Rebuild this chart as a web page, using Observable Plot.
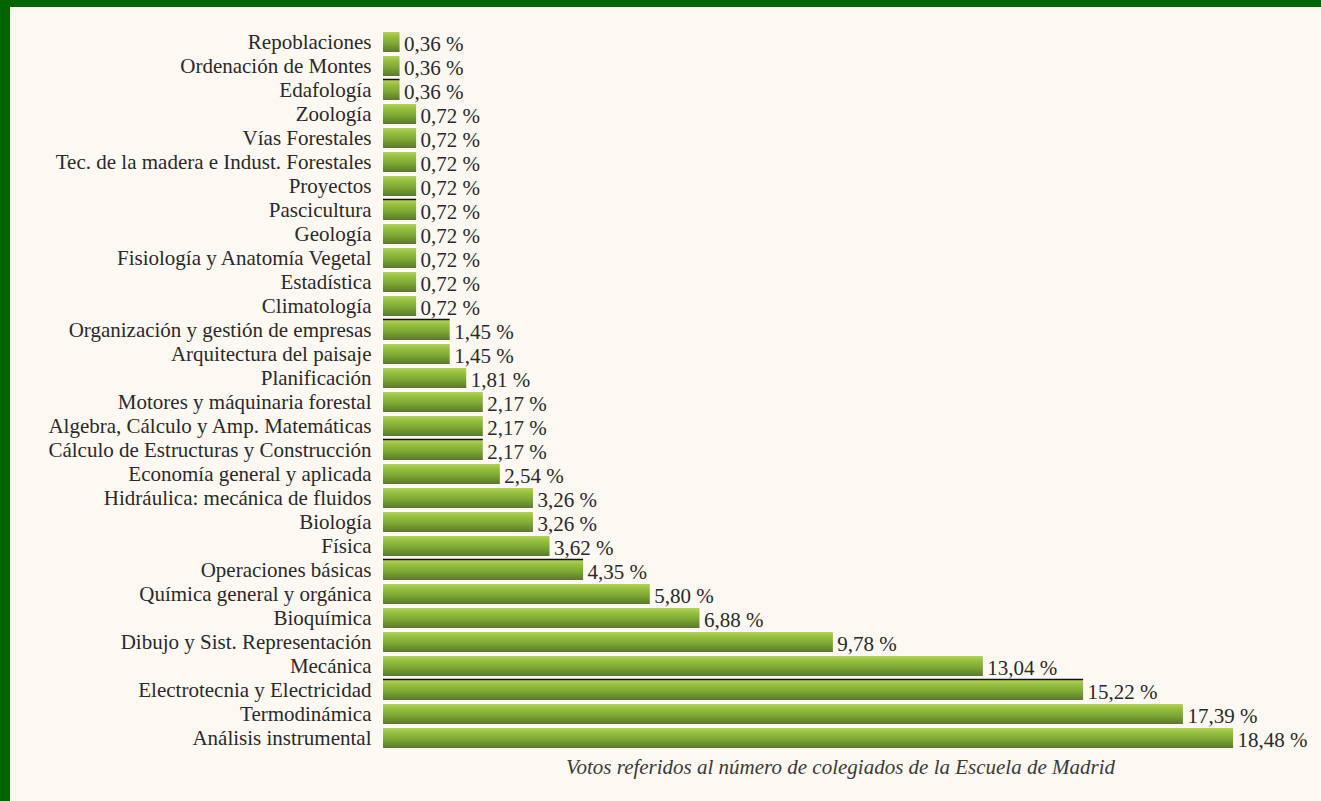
<!DOCTYPE html>
<html>
<head>
<meta charset="utf-8">
<script src="https://cdn.jsdelivr.net/npm/d3@7"></script>
<script src="https://cdn.jsdelivr.net/npm/@observablehq/plot@0.6"></script>
<style>
  html, body { margin: 0; padding: 0; background: #fdf8f1; }
  #frame { width: 1311px; height: 794px; border-top: 7px solid #006400; border-left: 10px solid #006400; background: #fdf8f1; overflow: hidden; }
</style>
</head>
<body>
<div id="frame"></div>
<script>
const categories = [
  "Repoblaciones", "Ordenación de Montes", "Edafología", "Zoología", "Vías Forestales",
  "Tec. de la madera e Indust. Forestales", "Proyectos", "Pascicultura", "Geología",
  "Fisiología y Anatomía Vegetal", "Estadística", "Climatología",
  "Organización y gestión de empresas", "Arquitectura del paisaje", "Planificación",
  "Motores y máquinaria forestal", "Algebra, Cálculo y Amp. Matemáticas",
  "Cálculo de Estructuras y Construcción", "Economía general y aplicada",
  "Hidráulica: mecánica de fluidos", "Biología", "Física", "Operaciones básicas",
  "Química general y orgánica", "Bioquímica", "Dibujo y Sist. Representación",
  "Mecánica", "Electrotecnia y Electricidad", "Termodinámica", "Análisis instrumental"
];
const values = [
  0.36, 0.36, 0.36, 0.72, 0.72, 0.72, 0.72, 0.72, 0.72, 0.72, 0.72, 0.72,
  1.45, 1.45, 1.81, 2.17, 2.17, 2.17, 2.54, 3.26, 3.26, 3.62, 4.35,
  5.80, 6.88, 9.78, 13.04, 15.22, 17.39, 18.48
];
const linedRows = [
  "Edafología", "Pascicultura", "Organización y gestión de empresas",
  "Cálculo de Estructuras y Construcción", "Operaciones básicas", "Electrotecnia y Electricidad"
];
const caption = "Votos referidos al número de colegiados de la Escuela de Madrid";

const data = categories.map((c, i) => ({cat: c, value: values[i]}));
const lined = data.filter(d => linedRows.includes(d.cat));
const fmt = v => v.toFixed(2).replace(".", ",") + " %";

const defs = () => {
  const d = d3.create("svg:defs");
  const g = d.append("linearGradient").attr("id", "barGrad")
    .attr("x1", 0).attr("y1", 0).attr("x2", 0).attr("y2", 1);
  g.append("stop").attr("offset", "0%").attr("stop-color", "#b6d25a");
  g.append("stop").attr("offset", "25%").attr("stop-color", "#95bf3c");
  g.append("stop").attr("offset", "60%").attr("stop-color", "#7ba534");
  g.append("stop").attr("offset", "100%").attr("stop-color", "#587a2b");
  return d.node();
};

const chart = Plot.plot({
  width: 1311,
  height: 794,
  marginLeft: 373,
  marginRight: 24,
  marginTop: 18,
  marginBottom: 46,
  x: {domain: [0, 19.87], axis: null},
  y: {domain: categories, padding: 0.17, axis: null},
  style: {fontFamily: "'Liberation Serif', 'DejaVu Serif', serif", background: "transparent", color: "#2a2a2a"},
  marks: [
    defs,
    Plot.barX(data, {x: "value", y: "cat", fill: "url(#barGrad)"}),
    Plot.ruleY(lined, {y: "cat", x1: 0, x2: "value", dy: -11, stroke: "#111", strokeWidth: 1.5}),
    Plot.text(data, {x: "value", y: "cat", text: d => fmt(d.value), textAnchor: "start", dx: 4, dy: 2, fill: "#2a2a2a", fontSize: 21}),
    Plot.axisY({tickSize: 0, tickPadding: 12, fontSize: 21, label: null, fill: "#2a2a2a"}),
    Plot.text([caption], {frameAnchor: "bottom", dy: 18, fontStyle: "italic", fontSize: 21, fill: "#3a3a3a"})
  ]
});
document.getElementById("frame").appendChild(chart);
</script>
</body>
</html>
